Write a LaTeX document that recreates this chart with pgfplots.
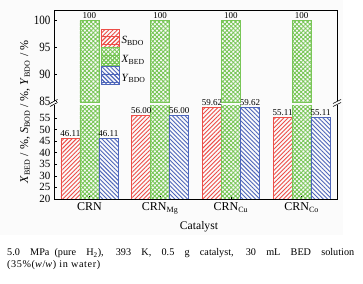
\documentclass[border=0pt]{standalone}
\usepackage{fontspec}
\setmainfont{Liberation Serif}
\usepackage{graphicx}
\usepackage{pgfplots}
\pgfplotsset{compat=1.18}
\usetikzlibrary{patterns.meta}
\definecolor{cr}{RGB}{236,78,72}
\definecolor{cg}{RGB}{120,198,86}
\definecolor{cb}{RGB}{78,102,186}
\tikzset{
 pr/.style={draw=cr, line width=0.7pt, pattern={Lines[angle=45,distance=3pt,line width=0.9pt]}, pattern color=cr},
 pg/.style={draw=cg, line width=0.7pt, pattern={Hatch[angle=45,distance=3pt,line width=0.9pt]}, pattern color=cg},
 pb/.style={draw=cb, line width=0.7pt, pattern={Lines[angle=-45,distance=3pt,line width=0.9pt]}, pattern color=cb},
}
\pgfplotsset{
 mylegend/.style={legend image code/.code={\path (0pt,-6pt) rectangle (18pt,12pt);\draw[##1] (0pt,-3.5pt) rectangle (18pt,4.5pt);}},
 common/.style={
  scale only axis, width=283pt, xmin=-0.5, xmax=3.5,
  axis line style={draw=none},
  ybar, bar width=19pt,
  tick align=inside, major tick length=3pt,
  tick style={line width=0.6pt, black},
  ytick pos=left,
  /pgf/number format/assume math mode=true,
 },
 vlab/.style={nodes near coords={\pgfmathprintnumber[fixed,fixed zerofill,precision=2]{\pgfplotspointmeta}},
   every node near coord/.append style={font=\fontsize{9}{9}\selectfont, inner sep=1.5pt}},
}
\begin{document}
\begin{tikzpicture}[x=1pt,y=1pt]
\useasboundingbox (0,0) rectangle (363,283);
\fill[gray!3] (0,48) rectangle (343,283);
% lower part
\begin{axis}[common,
 at={(54pt,84pt)}, anchor=south west, height=93.5pt,
 ymin=20, ymax=60.35,
 xtick={0,1,2,3},
 xticklabels={CRN,CRN\textsubscript{Mg},CRN\textsubscript{Cu},CRN\textsubscript{Co}},
 xtick pos=bottom,
 ytick={20,25,30,35,40,45,50,55},
 xticklabel style={font=\fontsize{12}{12}\selectfont},
 yticklabel style={font=\fontsize{11}{11}\selectfont},
]
\addplot[pr, bar shift=-19pt, vlab] coordinates {(0,46.11) (1,56.00) (2,59.62) (3,55.11)};
\addplot[pg, bar shift=0pt] coordinates {(0,100) (1,100) (2,100) (3,100)};
\addplot[pb, bar shift=19pt, vlab] coordinates {(0,46.11) (1,56.00) (2,59.62) (3,55.11)};
\end{axis}
% upper part
\begin{axis}[common,
 at={(54pt,180.5pt)}, anchor=south west, height=92.5pt,
 ymin=84.78, ymax=102,
 xtick=\empty,
 ytick={85,90,95,100},
 yticklabel={\scalebox{1}[1.15]{\pgfmathprintnumber{\tick}}},
 yticklabel style={font=\fontsize{11}{11}\selectfont},
 legend style={at={(0.165,0.80)}, anchor=north west, draw=none, fill=none,
   font=\fontsize{11}{11}\selectfont, row sep=0pt, inner sep=0pt,
   nodes={inner xsep=2pt, inner ysep=0pt}},
 legend cell align=left,
]
\addlegendimage{mylegend, pr}
\addlegendentry{\textit{S}\textsubscript{BDO}}
\addlegendimage{mylegend, pg}
\addlegendentry{\textit{X}\textsubscript{BED}}
\addlegendimage{mylegend, pb}
\addlegendentry{\textit{Y}\textsubscript{BDO}}
\addplot[pg, bar shift=0pt, forget plot,
  nodes near coords={\pgfmathprintnumber{\pgfplotspointmeta}},
  every node near coord/.append style={font=\fontsize{9}{9}\selectfont, inner sep=1.5pt}]
  coordinates {(0,100) (1,100) (2,100) (3,100)};
\end{axis}
% frame and axis breaks
\draw[line width=0.7pt] (54,84) rectangle (337,273);
\fill[white] (52.5,178) rectangle (55.5,181.5);
\draw[line width=0.6pt] (50,176.5) -- (57.5,180.5) (50,179.5) -- (57.5,183.5);
\fill[white] (335.5,178) rectangle (338.5,181.5);
\draw[line width=0.6pt] (333,176.5) -- (341,180.5) (333,179.5) -- (341,183.5);
% labels
\node[rotate=90, font=\fontsize{12}{12}\selectfont] at (25,171)
  {\textit{X}\textsubscript{BED} / \%, \textit{S}\textsubscript{BOD} / \%, \textit{Y}\textsubscript{BDO} / \%};
\node[font=\fontsize{11.6}{12}\selectfont] at (199,56.5) {Catalyst};
\node[anchor=base west, inner sep=0pt, font=\fontsize{10.2}{12}\selectfont] at (7,27.3)
  {\makebox[347pt][s]{5.0 MPa\enspace (pure H\textsubscript{2}), 393 K, 0.5 g catalyst, 30 mL BED solution}};
\node[anchor=base west, inner sep=0pt, font=\fontsize{10.2}{12}\selectfont] at (7,15.7)
  {\addfontfeatures{LetterSpace=6}(35\%(\textit{w}/\textit{w}) in water)};
\end{tikzpicture}
\end{document}
